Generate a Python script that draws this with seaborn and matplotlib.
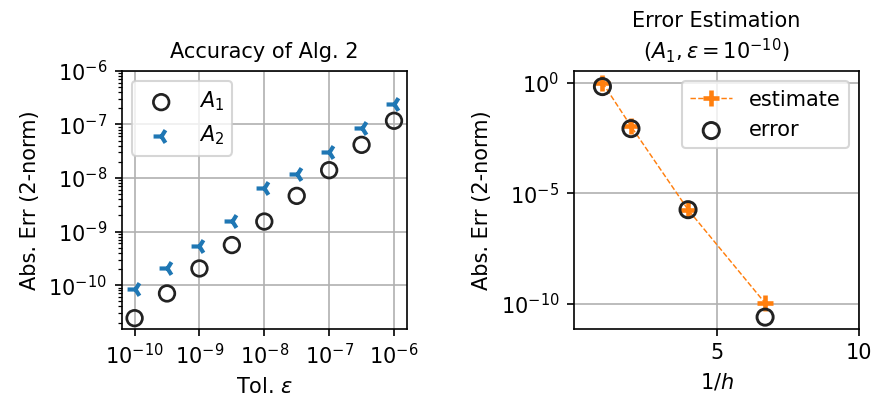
import numpy as np
import pandas as pd
import matplotlib
matplotlib.use("Agg")
import matplotlib.pyplot as plt
import matplotlib.ticker as mticker
import seaborn as sns

# Left panel: accuracy vs tolerance
tol = [1e-10, 3.16e-10, 1e-9, 3.16e-9, 1e-8, 3.16e-8, 1e-7, 3.16e-7, 1e-6]
err_a1 = [2.42e-11, 7.0e-11, 2.05e-10, 5.6e-10, 1.54e-9, 4.64e-9, 1.40e-8, 4.16e-8, 1.17e-7]
err_a2 = [8.5e-11, 2.13e-10, 5.42e-10, 1.58e-9, 6.64e-9, 1.18e-8, 3.08e-8, 8.5e-8, 2.39e-7]

# Right panel: error estimation
inv_h = [1, 2, 4, 6.7]
estimate = [1.0, 1.07e-2, 1.8e-6, 1.08e-10]
error = [0.66, 8.3e-3, 1.8e-6, 2.5e-11]

sns.set_style("ticks", rc={"axes.grid": True, "grid.color": "#b0b0b0",
                           "axes.edgecolor": "black", "text.color": "black",
                           "axes.labelcolor": "black", "xtick.color": "black",
                           "ytick.color": "black", "xtick.direction": "out",
                           "ytick.direction": "out"})
plt.rcParams["font.family"] = ["DejaVu Sans"]
plt.rcParams["mathtext.fontset"] = "dejavusans"
plt.rcParams["font.size"] = 10
plt.rcParams["axes.titlesize"] = 10

fig, (ax1, ax2) = plt.subplots(1, 2, figsize=(875 / 150, 405 / 150), dpi=150)
fig.subplots_adjust(left=0.139, right=0.982, bottom=0.188, top=0.825, wspace=0.585)

left_df = pd.DataFrame({"tol": tol, "a1": err_a1, "a2": err_a2})
sns.scatterplot(data=left_df, x="tol", y="a1", ax=ax1, marker="o", s=56,
                facecolor="none", edgecolor="#222222", linewidth=1.3, label="$A_1$")
sns.scatterplot(data=left_df, x="tol", y="a2", ax=ax1, marker="3", s=58,
                color="tab:blue", linewidth=2, label="$A_2$")
ax1.set_xscale("log")
ax1.set_yscale("log")
ax1.set_ylim(top=1e-6)
ax1.set_xticks([1e-10, 1e-9, 1e-8, 1e-7, 1e-6])
ax1.xaxis.set_minor_locator(mticker.NullLocator())
ax1.set_title("Accuracy of Alg. 2")
ax1.set_xlabel(r"Tol. $\varepsilon$")
ax1.set_ylabel("Abs. Err (2-norm)")
ax1.legend(loc="upper left")
ax1.grid(True, which="major", linewidth=0.8)

right_df = pd.DataFrame({"inv_h": inv_h, "estimate": estimate, "error": error})
sns.lineplot(data=right_df, x="inv_h", y="estimate", ax=ax2, color="tab:orange",
             linestyle="--", linewidth=0.7, marker="+", markersize=8,
             markeredgewidth=2.2, markeredgecolor="tab:orange", label="estimate")
sns.scatterplot(data=right_df, x="inv_h", y="error", ax=ax2, marker="o", s=60,
                facecolor="none", edgecolor="#222222", linewidth=1.4, label="error",
                zorder=3)
ax2.set_yscale("log")
ax2.set_xlim(0, 10)
ax2.set_xticks([5, 10])
ax2.set_yticks([1, 1e-5, 1e-10])
ax2.yaxis.set_minor_locator(mticker.NullLocator())
ax2.set_title("Error Estimation\n" + r"($A_1, \varepsilon = 10^{-10}$)")
ax2.set_xlabel("$1/h$")
ax2.set_ylabel("Abs. Err (2-norm)")
ax2.legend(loc="upper right")
ax2.grid(True, which="major", linewidth=0.8)

fig.savefig("out.png", dpi=150)
